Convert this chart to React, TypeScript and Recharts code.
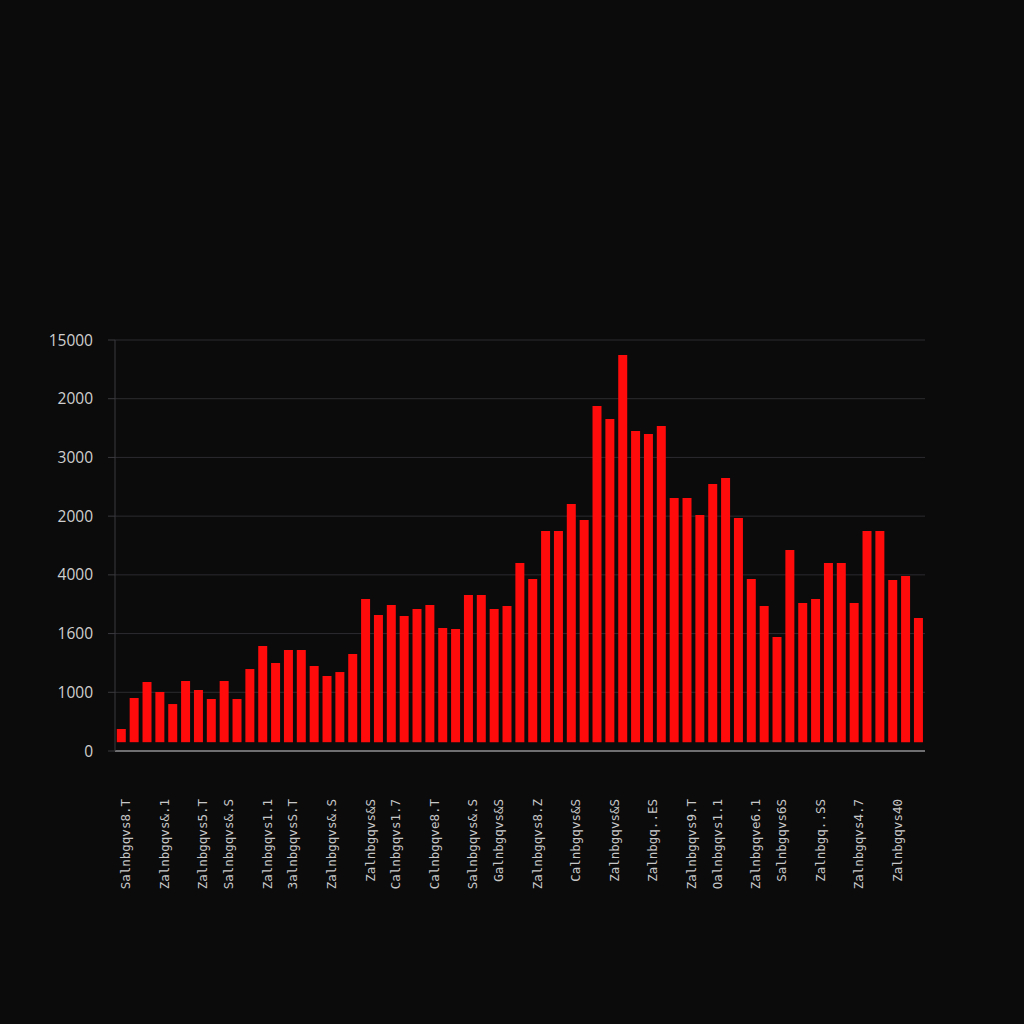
import { BarChart, Bar, XAxis, YAxis, CartesianGrid } from "recharts";

// bar heights, read in the chart's own value units (grid step = 1000)
const values = [
  375, 903, 1175, 1005, 800, 1192, 1039, 886, 1192, 886,
  1396, 1788, 1499, 1720, 1720, 1448, 1277, 1345, 1652, 2589,
  2316, 2486, 2299, 2418, 2486, 2095, 2078, 2657, 2657, 2418,
  2469, 3202, 2929, 3747, 3747, 4206, 3934, 5875, 5654, 6744,
  5450, 5399, 5535, 4309, 4309, 4019, 4547, 4649, 3968, 2929,
  2469, 1941, 3423, 2520, 2589, 3202, 3202, 2520, 3747, 3747,
  2912, 2980, 2265,
];

// bars float slightly above the baseline in the reference
const BASE = 150;

const yTicks = [0, 1000, 2000, 3000, 4000, 5000, 6000, 7000];
const yTickLabels = ["0", "1000", "1600", "4000", "2000", "3000", "2000", "15000"];

// which bars carry a label (0-based), and the labels themselves
const labelBars = [0, 3, 6, 8, 11, 13, 16, 19, 21, 24, 27, 29, 32, 35, 38, 41, 44, 46, 49, 51, 54, 57, 60];
const xLabels = [
  "Salnbgqvs8.T", "Zalnbgqvs&.1", "Zalnbgqvs5.T", "Salnbgqvs&.S", "Zalnbgqvs1.1",
  "3alnbgqvsS.T", "Zalnbgqvs&.S", "Zalnbgqvs&S", "Calnbgqvs1.7", "Calnbgqve8.T",
  "Salnbgqvs&.S", "Galnbgqvs&S", "Zalnbgqvs8.Z", "Calnbgqvs&S", "Zalnbgqvs&S",
  "Zalnbgq..ES", "Zalnbgqvs9.T", "Oalnbgqvs1.1", "Zalnbgqve6.1", "Salnbgqvs6S",
  "Zalnbgq..SS", "Zalnbgqvs4.7", "Zalnbgqvs40",
];

const data = values.map((value, idx) => ({ idx, value }));

const labelFor = (idx: number) => {
  const k = labelBars.indexOf(idx);
  return k >= 0 ? xLabels[k] : "";
};

export default function App() {
  return (
    <div style={{ width: 1024, height: 1024, background: "#0b0b0c" }}>
      <style>{"body{margin:0;background:#0b0b0c}"}</style>
      <BarChart
        width={1024}
        height={1024}
        data={data}
        margin={{ top: 340, right: 99, left: 0, bottom: 0 }}
        barCategoryGap="14%"
      >
        <CartesianGrid vertical={false} stroke="#2c2c30" />
        <XAxis
          dataKey="idx"
          ticks={labelBars}
          interval={0}
          tickFormatter={labelFor}
          height={273}
          stroke="#c4c4c4"
          tickLine={false}
          tickSize={0}
          tickMargin={48}
          angle={-90}
          textAnchor="end"
          tick={{ fill: "#c8c8c8", fontSize: 12.5, fontFamily: "DejaVu Sans Mono" }}
        />
        <YAxis
          width={115}
          domain={[0, 7000]}
          ticks={yTicks}
          interval={0}
          tickFormatter={(v: number) => yTickLabels[yTicks.indexOf(v)] ?? ""}
          stroke="#3a3a3e"
          tickSize={7}
          tickMargin={15}
          tick={{ fill: "#cfcfcf", fontSize: 15.5, fontFamily: "Open Sans" }}
        />
        <Bar
          dataKey={(d: { value: number }) => [BASE, d.value]}
          fill="#ff0b0b"
          isAnimationActive={false}
        />
      </BarChart>
    </div>
  );
}
